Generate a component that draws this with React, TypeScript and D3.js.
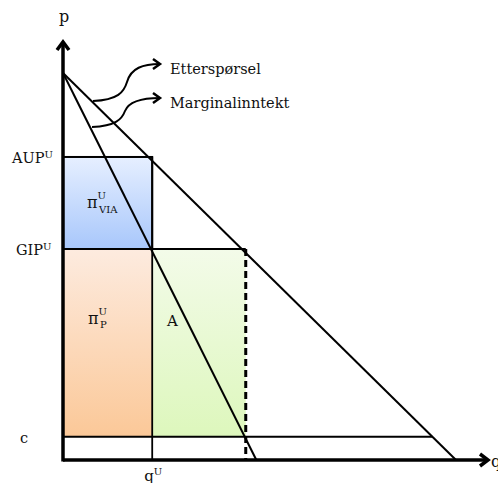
import React from "react";
import * as d3 from "d3";

const W = 498;
const H = 483;

// model values (q, p units)
const demandPts: [number, number][] = [[0, 10], [10, 0]];
const mrPts: [number, number][] = [[0, 10], [4.92, 0]];
const priceLevels = { AUP: 7.83, GIP: 5.45, c: 0.6 };
const qU = 2.27;
const qA = 4.65;
const qCend = 9.4;
const yLabels = [
  { key: "AUP", text: "AUP", sup: "U" },
  { key: "GIP", text: "GIP", sup: "U" },
  { key: "c", text: "c", sup: "" },
];
const curveLabels = ["Etterspørsel", "Marginalinntekt"];

const x = d3.scaleLinear().domain([0, 10]).range([63, 456]);
const y = d3.scaleLinear().domain([0, 10]).range([460, 73]);

const font = "'DejaVu Serif', 'Liberation Serif', serif";

export default function App() {
  const line = d3.line<[number, number]>().x((d) => x(d[0])).y((d) => y(d[1]));
  const x0 = x(0);
  const y0 = y(0);
  const yAUP = y(priceLevels.AUP);
  const yGIP = y(priceLevels.GIP);
  const yc = y(priceLevels.c);
  const xU = x(qU);
  const xA = x(qA);

  return (
    <svg width={W} height={H} style={{ position: "absolute", left: 0, top: 0 }}>
      <defs>
        <linearGradient id="gBlue" x1="0" y1="0" x2="0" y2="1">
          <stop offset="0" stopColor="#e6efff" />
          <stop offset="1" stopColor="#a8c7fb" />
        </linearGradient>
        <linearGradient id="gOrange" x1="0" y1="0" x2="0" y2="1">
          <stop offset="0" stopColor="#fdebdf" />
          <stop offset="1" stopColor="#fbc898" />
        </linearGradient>
        <linearGradient id="gGreen" x1="0" y1="0" x2="0" y2="1">
          <stop offset="0" stopColor="#f3fbe9" />
          <stop offset="1" stopColor="#ddf7bc" />
        </linearGradient>
      </defs>
      <rect x={0} y={0} width={W} height={H} fill="#fff" />

      {/* filled areas */}
      <rect x={x0} y={yAUP} width={xU - x0} height={yGIP - yAUP} fill="url(#gBlue)" stroke="#000" strokeWidth={2} />
      <rect x={x0} y={yGIP} width={xU - x0} height={yc - yGIP} fill="url(#gOrange)" stroke="none" />
      <rect x={xU} y={yGIP} width={xA - xU} height={yc - yGIP} fill="url(#gGreen)" stroke="none" />

      {/* box lines */}
      <line x1={x0} x2={xA} y1={yGIP} y2={yGIP} stroke="#000" strokeWidth={2} />
      <line x1={xU} x2={xU} y1={yAUP} y2={y0} stroke="#000" strokeWidth={1.8} />
      <line x1={x0} x2={x(qCend)} y1={yc} y2={yc} stroke="#000" strokeWidth={2} />
      <line x1={xA} x2={xA} y1={yGIP} y2={y0} stroke="#000" strokeWidth={3} strokeDasharray="7,4" />

      {/* curves */}
      <path d={line(demandPts) || ""} fill="none" stroke="#000" strokeWidth={2} />
      <path d={line(mrPts) || ""} fill="none" stroke="#000" strokeWidth={2} />

      {/* axes */}
      <line x1={x0} x2={x0} y1={y0 + 1.5} y2={42} stroke="#000" strokeWidth={3.5} />
      <path d={`M${x0 - 6},${50} L${x0},${42} L${x0 + 6},${50}`} fill="none" stroke="#000" strokeWidth={3.5} />
      <line x1={x0} x2={488} y1={y0} y2={y0} stroke="#000" strokeWidth={3.5} />
      <path d={`M${480},${y0 - 6} L${488},${y0} L${480},${y0 + 6}`} fill="none" stroke="#000" strokeWidth={3.5} />

      {/* callout arrows */}
      <path d="M93,101 C118,100 124,92 127,82 C131,68 143,64 160,64" fill="none" stroke="#000" strokeWidth={2} />
      <path d="M153,59 L160,64 L153,69" fill="none" stroke="#000" strokeWidth={2.5} />
      <path d="M92,127 C116,126 122,119 125,111 C129,101 142,98 160,98" fill="none" stroke="#000" strokeWidth={2} />
      <path d="M153,93 L160,98 L153,103" fill="none" stroke="#000" strokeWidth={2.5} />

      <g fontFamily={font} fill="#111">
        <text x={170} y={74} fontSize={14.5}>{curveLabels[0]}</text>
        <text x={170} y={108} fontSize={14.5}>{curveLabels[1]}</text>

        <text x={x0 + 1} y={22} fontSize={16} textAnchor="middle">p</text>
        <text x={491} y={467} fontSize={16}>q</text>

        {yLabels.map((l) => {
          const yy = y(priceLevels[l.key as keyof typeof priceLevels]);
          return (
            <text key={l.key} x={l.key === "c" ? 20 : (l.key === "GIP" ? 16 : 12)} y={yy + 6} fontSize={14.5}>
              {l.text}
              {l.sup && <tspan fontSize={10} dy={-5}>{l.sup}</tspan>}
            </text>
          );
        })}

        <text x={xU - 8} y={481} fontSize={15}>
          q<tspan fontSize={10} dy={-6}>U</tspan>
        </text>

        <text x={87} y={208} fontSize={16}>
          π<tspan fontSize={10} dy={-9}>U</tspan>
          <tspan fontSize={10} dx={-7} dy={14}>VIA</tspan>
        </text>
        <text x={88} y={324} fontSize={16}>
          π<tspan fontSize={10} dy={-9}>U</tspan>
          <tspan fontSize={10} dx={-7} dy={13}>P</tspan>
        </text>
        <text x={167} y={326} fontSize={15}>A</text>
      </g>
    </svg>
  );
}
